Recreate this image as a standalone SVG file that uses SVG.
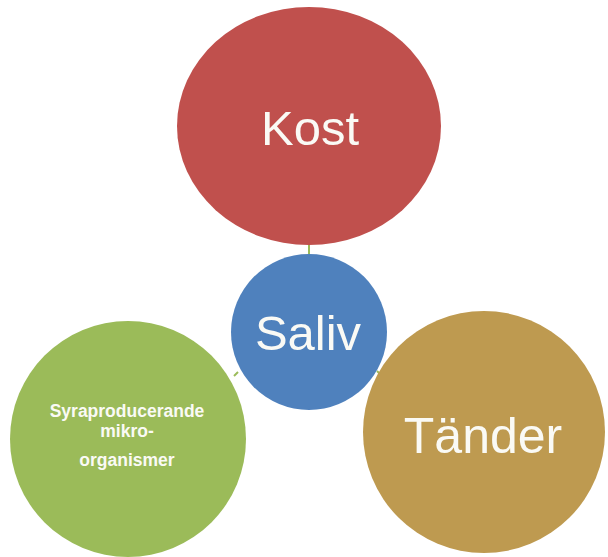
<svg xmlns="http://www.w3.org/2000/svg" width="608" height="557" viewBox="0 0 608 557">
<style>
.lbl{font-family:"Liberation Sans",Arial,sans-serif;fill:#FAFAF5;text-anchor:middle}
.big{font-size:49px}
.small{font-size:17.5px;font-weight:bold}
.conn{stroke:#9BBB59;stroke-width:2;fill:none}
</style>
<rect width="608" height="557" fill="#FFFFFF"/>
<g id="connectors">
<line class="conn" x1="309" y1="245" x2="309" y2="254"/>
<line class="conn" x1="234" y1="376" x2="238" y2="372"/>
<line class="conn" x1="377" y1="371" x2="381" y2="375"/>
</g>
<g id="kost">
<ellipse cx="309" cy="126" rx="132" ry="119" fill="#C0504D"/>
<text class="lbl big" x="310" y="145">Kost</text>
</g>
<g id="saliv">
<circle cx="309" cy="332" r="78" fill="#4F81BD"/>
<text class="lbl big" x="308" y="350">Saliv</text>
</g>
<g id="mikro">
<circle cx="128" cy="439" r="118" fill="#9BBB59"/>
<text class="lbl small" x="127" y="417">Syraproducerande</text>
<text class="lbl small" x="127" y="437">mikro-</text>
<text class="lbl small" x="127" y="466">organismer</text>
</g>
<g id="tander">
<circle cx="484" cy="432" r="121" fill="#BE9A50"/>
<text class="lbl" style="font-size:50px" x="483" y="453">Tänder</text>
</g>
</svg>
